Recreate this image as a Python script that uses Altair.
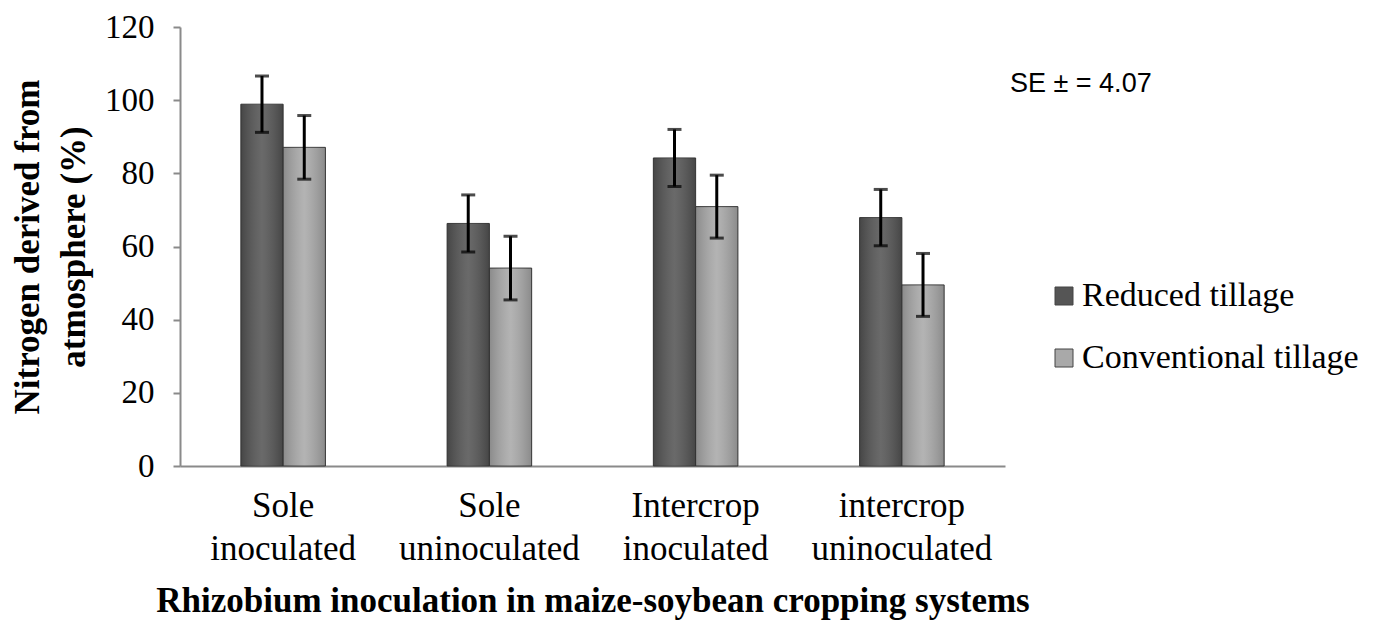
import altair as alt
import pandas as pd

categories = ["Sole inoculated", "Sole uninoculated", "Intercrop inoculated", "intercrop uninoculated"]
series = ["Reduced tillage", "Conventional tillage"]
reduced = [98.9, 66.3, 84.2, 67.9]
conventional = [87.1, 54.1, 70.9, 49.5]
reduced_err = [7.7, 7.8, 7.8, 7.7]
conventional_err = [8.7, 8.7, 8.6, 8.6]
se_text = "SE ± = 4.07"

rows = []
for i, c in enumerate(categories):
    rows.append({"cat": c, "series": series[0], "value": reduced[i],
                 "lo": reduced[i] - reduced_err[i], "hi": reduced[i] + reduced_err[i]})
    rows.append({"cat": c, "series": series[1], "value": conventional[i],
                 "lo": conventional[i] - conventional_err[i], "hi": conventional[i] + conventional_err[i]})
df = pd.DataFrame(rows)

serif = "Liberation Serif"

x = alt.X("cat:N", sort=categories,
          scale=alt.Scale(paddingInner=0.59, paddingOuter=0.295),
          axis=alt.Axis(title="Rhizobium inoculation in maize-soybean cropping systems",
                        labelExpr="split(datum.label, ' ')",
                        labelAngle=0, labelFont=serif, labelFontSize=35, labelColor="#000",
                        labelLineHeight=43, labelPadding=22, ticks=False, labelLimit=400,
                        domainColor="#8a8a8a", domainWidth=2,
                        titleFont=serif, titleFontSize=35, titleFontWeight="bold",
                        titleColor="#000", titlePadding=17))
xo = alt.XOffset("series:N", sort=series)
y = alt.Y("value:Q", scale=alt.Scale(domain=[0, 120], nice=False),
          axis=alt.Axis(title=["Nitrogen derived from", "atmosphere (%)"], values=[0, 20, 40, 60, 80, 100, 120],
                        grid=False, labelFont=serif, labelFontSize=33, labelColor="#000",
                        labelPadding=19, tickSize=7, tickColor="#8a8a8a", tickWidth=2,
                        domainColor="#8a8a8a", domainWidth=2,
                        titleFont=serif, titleFontSize=35, titleFontWeight="bold",
                        titleColor="#000", titlePadding=13, titleLineHeight=46))

base = alt.Chart(df)

bars = base.mark_bar(stroke="#3a3a3a", strokeWidth=1).encode(
    x=x, xOffset=xo, y=y,
    color=alt.Color("series:N", sort=series,
                    scale=alt.Scale(domain=series, range=["#555555", "#a9a9a9"]),
                    legend=alt.Legend(title=None, orient="none", legendX=867, legendY=252,
                                      symbolType="square", symbolSize=324, symbolStrokeWidth=1,
                                      symbolStrokeColor="#444",
                                      labelFont=serif, labelFontSize=34, labelColor="#000",
                                      rowPadding=28, labelLimit=400, labelOffset=1))
)

shine = base.mark_bar(fill=alt.Gradient(
    gradient="linear", x1=0, x2=1, y1=0, y2=0,
    stops=[alt.GradientStop(offset=0, color="rgba(0,0,0,0.18)"),
           alt.GradientStop(offset=0.5, color="rgba(255,255,255,0.12)"),
           alt.GradientStop(offset=1, color="rgba(0,0,0,0.18)")])).encode(
    x=x, xOffset=xo, y=y)

err = base.mark_rule(color="#000", strokeWidth=3).encode(
    x=x, xOffset=xo, y="lo:Q", y2="hi:Q")
cap_hi = base.mark_tick(color="#000", size=14, thickness=3).encode(x=x, xOffset=xo, y="hi:Q")
cap_lo = base.mark_tick(color="#000", size=14, thickness=3).encode(x=x, xOffset=xo, y="lo:Q")

se = alt.Chart(pd.DataFrame({"t": [se_text]})).mark_text(
    align="left", baseline="middle", font="Liberation Sans", fontSize=27, color="#000"
).encode(text="t:N", x=alt.value(830), y=alt.value(57))

chart = alt.layer(bars, shine, err, cap_hi, cap_lo, se).properties(
    width=825, height=439,
    autosize=alt.AutoSizeParams(type="none"),
    padding={"left": 172, "top": 19, "right": 365, "bottom": 155}
).configure_view(stroke=None)

chart.save("out.html", embed_options={"renderer": "svg", "actions": False})
